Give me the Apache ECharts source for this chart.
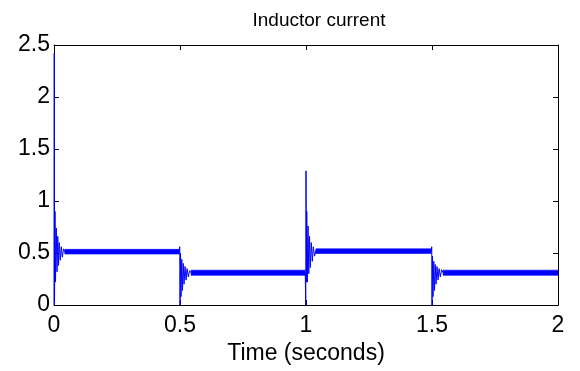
<!DOCTYPE html>
<html>
<head>
<meta charset="utf-8">
<script src="https://cdn.jsdelivr.net/npm/echarts@6/dist/echarts.min.js"></script>
<style>
  html, body { margin: 0; padding: 0; background: #fff; }
  #main { width: 580px; height: 371px; }
</style>
</head>
<body>
<div id="main"></div>
<script>
// ticks
const xTicks = [0, 0.5, 1, 1.5, 2];
const yTicks = [0, 0.5, 1, 1.5, 2, 2.5];

// transients (time in s, current)
const startT = [0, 0.001, 0.002, 0.004, 0.006, 0.009, 0.012, 0.015, 0.018, 0.021, 0.025, 0.029, 0.033, 0.038, 0.043];
const startI = [0, 2.42, 0, 0.90, 0.22, 0.74, 0.32, 0.66, 0.38, 0.60, 0.43, 0.56, 0.46, 0.54, 0.51];

const step1T = [0.497, 0.499, 0.500, 0.502, 0.504, 0.507, 0.510, 0.513, 0.516, 0.520, 0.524, 0.528, 0.533, 0.538, 0.544];
const step1I = [0.51, 0.56, 0.0, 0.50, 0.08, 0.44, 0.14, 0.40, 0.20, 0.37, 0.24, 0.35, 0.27, 0.33, 0.31];

const step2T = [0.997, 0.999, 1.000, 1.002, 1.003, 1.005, 1.008, 1.011, 1.014, 1.017, 1.021, 1.025, 1.029, 1.034, 1.039];
const step2I = [0.31, 0.0, 1.29, 0.22, 0.90, 0.22, 0.76, 0.30, 0.66, 0.36, 0.60, 0.42, 0.56, 0.47, 0.52];

const step3T = [1.497, 1.499, 1.500, 1.502, 1.504, 1.507, 1.510, 1.513, 1.516, 1.520, 1.524, 1.528, 1.533, 1.538, 1.544];
const step3I = [0.52, 0.56, 0.0, 0.47, 0.08, 0.42, 0.14, 0.39, 0.20, 0.37, 0.24, 0.35, 0.27, 0.34, 0.31];

// steady-state ripple bands (lower / upper envelope)
const band1T = [0.043, 0.497];
const band1Lo = [0.49, 0.49];
const band1Hi = [0.535, 0.535];

const band2T = [0.544, 0.997];
const band2Lo = [0.285, 0.285];
const band2Hi = [0.335, 0.335];

const band3T = [1.039, 1.497];
const band3Lo = [0.495, 0.495];
const band3Hi = [0.54, 0.54];

const band4T = [1.544, 2.0];
const band4Lo = [0.285, 0.285];
const band4Hi = [0.335, 0.335];

const bands = [
  [band1T, band1Lo, band1Hi],
  [band2T, band2Lo, band2Hi],
  [band3T, band3Lo, band3Hi],
  [band4T, band4Lo, band4Hi]
];

const pairs = (ts, vs) => ts.map((t, k) => [t, vs[k]]);
const trace = [].concat(
  pairs(startT, startI),
  pairs(step1T, step1I),
  pairs(step2T, step2I),
  pairs(step3T, step3I),
  [[2.0, 0.31]]
);

const FONT = 'Liberation Sans, Arial, sans-serif';
const BLUE = '#0000ff';

const tickCommon = {
  axisLine: { show: true, onZero: false, lineStyle: { color: '#000', width: 1 } },
  axisTick: { show: true, inside: true, length: 5, lineStyle: { color: '#000' } },
  splitLine: { show: false }
};

const chart = echarts.init(document.getElementById('main'), null, { renderer: 'canvas' });
chart.setOption({
  animation: false,
  backgroundColor: '#fff',
  title: {
    text: 'Inductor current',
    left: 314,
    top: 6,
    textAlign: 'center',
    textStyle: { fontFamily: FONT, fontSize: 19, fontWeight: 'normal', color: '#000' }
  },
  grid: { left: 54, right: 22, top: 45, bottom: 66, show: false },
  xAxis: [
    Object.assign({
      type: 'value', min: xTicks[0], max: xTicks[xTicks.length - 1], interval: 0.5,
      position: 'bottom',
      name: 'Time (seconds)', nameLocation: 'middle', nameGap: 37,
      nameTextStyle: { fontFamily: FONT, fontSize: 23, color: '#000' },
      axisLabel: {
        fontFamily: FONT, fontSize: 23, color: '#000', margin: 9,
        showMinLabel: true, showMaxLabel: true,
        formatter: v => String(v)
      }
    }, tickCommon),
    Object.assign({
      type: 'value', min: xTicks[0], max: xTicks[xTicks.length - 1], interval: 0.5,
      position: 'top', axisLabel: { show: false }
    }, tickCommon)
  ],
  yAxis: [
    Object.assign({
      type: 'value', min: yTicks[0], max: yTicks[yTicks.length - 1], interval: 0.5,
      position: 'left',
      axisLabel: {
        fontFamily: FONT, fontSize: 23, color: '#000', margin: 4,
        showMinLabel: true, showMaxLabel: true,
        formatter: v => String(v)
      }
    }, tickCommon),
    Object.assign({
      type: 'value', min: yTicks[0], max: yTicks[yTicks.length - 1], interval: 0.5,
      position: 'right', axisLabel: { show: false }
    }, tickCommon)
  ],
  series: [
    {
      type: 'custom',
      coordinateSystem: 'cartesian2d',
      xAxisIndex: 0, yAxisIndex: 0,
      data: bands.map((b, k) => [b[0][0], b[1][0], k]),
      renderItem: function (params, api) {
        const b = bands[params.dataIndex];
        const pts = [];
        for (let k = 0; k < b[0].length; k++) pts.push(api.coord([b[0][k], b[2][k]]));
        for (let k = b[0].length - 1; k >= 0; k--) pts.push(api.coord([b[0][k], b[1][k]]));
        return {
          type: 'polygon',
          shape: { points: pts },
          style: { fill: BLUE, stroke: BLUE, lineWidth: 0.6 }
        };
      },
      z: 3
    },
    {
      type: 'line',
      xAxisIndex: 0, yAxisIndex: 0,
      data: trace,
      showSymbol: false,
      symbol: 'none',
      lineStyle: { color: BLUE, width: 1 },
      z: 4
    }
  ]
});
</script>
</body>
</html>
